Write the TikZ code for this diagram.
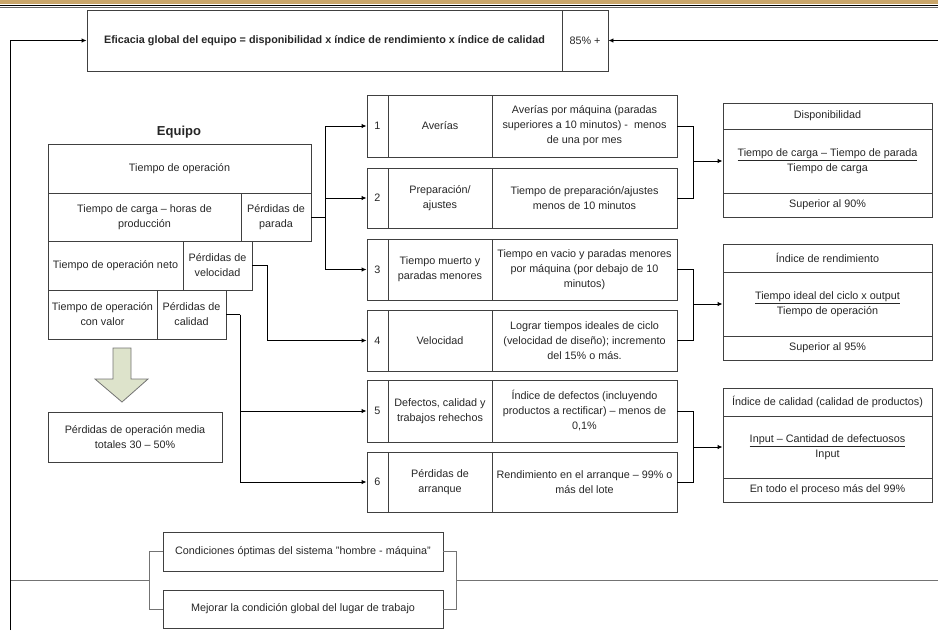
\documentclass[tikz,border=0pt]{standalone}
\usepackage{fontspec}
\setmainfont{Liberation Sans}
\usetikzlibrary{arrows.meta,calc}

\definecolor{goldbar}{HTML}{C9A66B}
\definecolor{arrowfill}{HTML}{DDE3CB}

\tikzset{
  cell/.style={draw=black!75, line width=0.9pt, inner sep=1pt, align=center,
    font=\fontsize{10.8}{15}\selectfont, text=black!85},
  link/.style={draw=black, line width=0.9pt},
  linkarr/.style={link, -{Latex[length=5pt,width=4.5pt]}},
  graylink/.style={draw=black!55, line width=1pt},
}

% cell from (x1,y1) to (x2,y2) in pixel units
\newcommand{\cellbox}[6]{%
  \node[cell, minimum width={(#4-#2)*1pt}, minimum height={(#5-#3)*1pt}]
    (#1) at ({(#2+#4)/2},{(#3+#5)/2}) {#6};}

\begin{document}
\begin{tikzpicture}[x=1pt,y=-1pt]
\useasboundingbox (0,0) rectangle (938,630);
% page band
\fill[goldbar] (0,0) rectangle (938,4);
\draw[line width=1.2pt] (0,5.2) -- (938,5.2);
\draw[line width=0.5pt, black!60] (0,7.2) -- (938,7.2);

% headline
\cellbox{eff}{87}{10}{562}{71}{\bfseries Eficacia global del equipo = disponibilidad x índice de rendimiento x índice de calidad}
\cellbox{pct}{562}{10}{608}{71}{85\% +}

% equipo table
\node[font=\fontsize{13}{15}\selectfont\bfseries, text=black!85] (equipo) at (179,132) {Equipo};
\cellbox{top}{48}{144}{311}{193}{Tiempo de operación}
\cellbox{tc}{48}{193}{241}{241}{Tiempo de carga – horas de\\producción}
\cellbox{pp}{241}{193}{311}{241}{Pérdidas de\\parada}
\cellbox{ton}{48}{241}{183}{290}{Tiempo de operación neto}
\cellbox{pv}{183}{241}{252}{290}{Pérdidas de\\velocidad}
\cellbox{tov}{48}{290}{157}{339}{Tiempo de operación\\con valor}
\cellbox{pc}{157}{290}{226}{339}{Pérdidas de\\calidad}

% big arrow and total
\filldraw[fill=arrowfill, draw=black!55, line width=0.8pt]
  (113,348) -- (131,348) -- (131,379) -- (148,379) -- (122,402)
  -- (95,379) -- (113,379) -- cycle;
\cellbox{tot}{48}{412}{222}{462}{Pérdidas de operación media\\totales 30 – 50\%}

% six big losses
\cellbox{num1}{367}{95}{388}{157}{1}
\cellbox{loss1}{388}{95}{492}{157}{Averías}
\cellbox{goal1}{492}{95}{677}{157}{Averías por máquina (paradas\\superiores a 10 minutos) -~ menos\\de una por mes}
\cellbox{num2}{367}{168}{388}{228}{2}
\cellbox{loss2}{388}{168}{492}{228}{Preparación/\\ajustes}
\cellbox{goal2}{492}{168}{677}{228}{Tiempo de preparación/ajustes\\menos de 10 minutos}
\cellbox{num3}{367}{239}{388}{300}{3}
\cellbox{loss3}{388}{239}{492}{300}{Tiempo muerto y\\paradas menores}
\cellbox{goal3}{492}{239}{677}{300}{Tiempo en vacio y paradas menores\\por máquina (por debajo de 10\\minutos)}
\cellbox{num4}{367}{310}{388}{371}{4}
\cellbox{loss4}{388}{310}{492}{371}{Velocidad}
\cellbox{goal4}{492}{310}{677}{371}{Lograr tiempos ideales de ciclo\\(velocidad de diseño); incremento\\del 15\% o más.}
\cellbox{num5}{367}{380}{388}{442}{5}
\cellbox{loss5}{388}{380}{492}{442}{Defectos, calidad y\\trabajos rehechos}
\cellbox{goal5}{492}{380}{677}{442}{Índice de defectos (incluyendo\\productos a rectificar) – menos de\\0,1\%}
\cellbox{num6}{367}{452}{388}{512}{6}
\cellbox{loss6}{388}{452}{492}{512}{Pérdidas de\\arranque}
\cellbox{goal6}{492}{452}{677}{512}{Rendimiento en el arranque – 99\% o\\más del lote}

% indicators
\cellbox{dispH}{723}{103}{932}{129}{Disponibilidad}
\cellbox{dispM}{723}{129}{932}{193}{\underline{Tiempo de carga – Tiempo de parada}\\Tiempo de carga}
\cellbox{dispF}{723}{193}{932}{217}{Superior al 90\%}
\cellbox{rendH}{723}{244}{932}{272}{Índice de rendimiento}
\cellbox{rendM}{723}{272}{932}{336}{\underline{Tiempo ideal del ciclo x output}\\Tiempo de operación}
\cellbox{rendF}{723}{336}{932}{360}{Superior al 95\%}
\cellbox{calH}{723}{388}{932}{416}{Índice de calidad (calidad de productos)}
\cellbox{calM}{723}{416}{932}{478}{\underline{Input – Cantidad de defectuosos}\\Input}
\cellbox{calF}{723}{478}{932}{502}{En todo el proceso más del 99\%}

% bottom conditions
\cellbox{cond}{163}{532}{443}{571}{Condiciones óptimas del sistema "hombre - máquina"}
\cellbox{mej}{163}{590}{443}{628}{Mejorar la condición global del lugar de trabajo}

% losses -> six big losses
\draw[link] (pp.east) -- ++(14,0) coordinate (busA);
\draw[link] (busA |- num1.west) -- (busA |- num3.west);
\draw[linkarr] (busA |- num1.west) -- (num1.west);
\draw[linkarr] (busA |- num2.west) -- (num2.west);
\draw[linkarr] (busA |- num3.west) -- (num3.west);
\draw[linkarr] (pv.east) -- ++(15,0) |- (num4.west);
\draw[link] (pc.east) -- ++(14,0) coordinate (busC);
\draw[linkarr] (busC) |- (num5.west);
\draw[linkarr] (busC) |- (num6.west);

% six big losses -> indicators
\draw[link] (goal1.east) -- ++(16,0) coordinate (r1) -- (r1 |- goal2.east) -- (goal2.east);
\draw[linkarr] (r1 |- dispM.west) -- (dispM.west);
\draw[link] (goal3.east) -- ++(16,0) coordinate (r2) -- (r2 |- goal4.east) -- (goal4.east);
\draw[linkarr] (r2 |- rendM.west) -- (rendM.west);
\draw[link] (goal5.east) -- ++(16,0) coordinate (r3) -- (r3 |- goal6.east) -- (goal6.east);
\draw[linkarr] (r3 |- calM.west) -- (calM.west);

% feedback loop
\draw[graylink] (cond.west) -- ++(-13,0) |- (mej.west);
\draw[graylink] (cond.east) -- ++(13,0) |- (mej.east);
\coordinate (brL) at ($(cond.west)!0.5!(mej.west) + (-13,0)$);
\coordinate (brR) at ($(cond.east)!0.5!(mej.east) + (14,0)$);
\coordinate (cornerL) at (10,630);
\draw[graylink] (brL) -- ++(-5,0) -- (cornerL |- brL);
\draw[linkarr] (cornerL) |- (eff.west);
\draw[graylink] (brR) -- (938,0 |- brR);
\draw[linkarr] (938,0 |- pct.east) -- (pct.east);
\end{tikzpicture}
\end{document}
